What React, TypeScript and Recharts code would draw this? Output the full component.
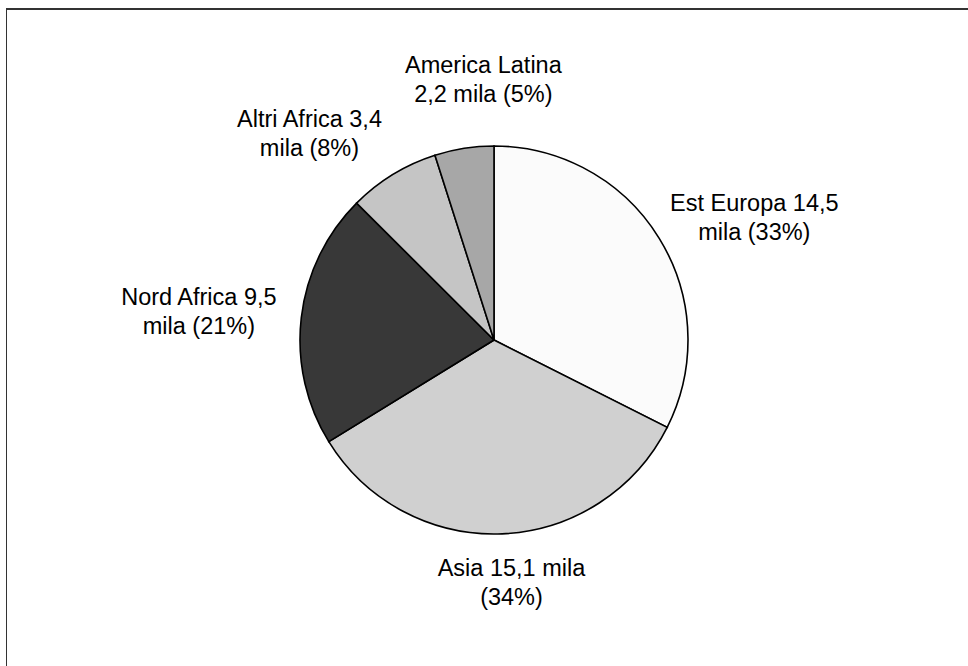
import { Cell, Pie, PieChart } from "recharts";

const regions = ["Est Europa", "Asia", "Nord Africa", "Altri Africa", "America Latina"];
const thousands = [14.5, 15.1, 9.5, 3.4, 2.2];
const shares = [33, 34, 21, 8, 5];
const labelLines: [string, string][] = [
  ["Est Europa 14,5", "mila (33%)"],
  ["Asia 15,1 mila", "(34%)"],
  ["Nord Africa 9,5", "mila (21%)"],
  ["Altri Africa 3,4", "mila (8%)"],
  ["America Latina", "2,2 mila (5%)"],
];
const fills = ["#fbfbfb", "#d0d0d0", "#383838", "#c5c5c5", "#a7a7a7"];

const data = regions.map((name, i) => ({
  name,
  value: thousands[i],
  share: shares[i],
}));

const FONT = "'Liberation Sans', Arial, sans-serif";
const FONT_SIZE = 23.5;
const LINE_H = 29;
const GAP = 20;
const SHIFT_X = 5;

// Excel shuffles labels around to avoid collisions; small manual tweaks
const nudge: Record<string, [number, number]> = {
  "Est Europa": [-2, 5],
  "Altri Africa": [-29, 1],
  "America Latina": [30, -20],
};

function approxWidth(s: string) {
  return s.length * FONT_SIZE * 0.5;
}

function renderLabel(props: any) {
  const { cx, cy, midAngle, outerRadius, index, name } = props;
  const rad = (-midAngle * Math.PI) / 180;
  const cos = Math.cos(rad);
  const sin = Math.sin(rad);
  const ax = cx + cos * (outerRadius + GAP);
  const ay = cy + sin * (outerRadius + GAP);
  const lines = labelLines[index];
  const w = Math.max(...lines.map(approxWidth));
  const h = LINE_H;
  const [nx, ny] = nudge[name] ?? [0, 0];
  const x = ax + (cos * w) / 2 + nx + SHIFT_X;
  const y = ay + sin * h + ny;
  return (
    <text
      x={x}
      y={y - LINE_H / 2}
      textAnchor="middle"
      dominantBaseline="central"
      fontFamily={FONT}
      fontSize={FONT_SIZE}
      fill="#000"
    >
      {lines.map((line, i) => (
        <tspan key={i} x={x} dy={i === 0 ? 0 : LINE_H}>
          {line}
        </tspan>
      ))}
    </text>
  );
}

export default function App() {
  return (
    <div
      style={{
        position: "absolute",
        left: 0,
        top: 0,
        width: 968,
        height: 666,
        overflow: "hidden",
        background: "#fff",
      }}
    >
      <div
        style={{
          position: "absolute",
          left: 6,
          top: 8,
          width: 1000,
          height: 700,
          borderTop: "2px solid #333",
          borderLeft: "1.5px solid #333",
        }}
      />
      <div style={{ position: "absolute", left: 0, top: 0 }}>
        <PieChart
          width={968}
          height={666}
          margin={{ top: 0, right: 0, bottom: 0, left: 0 }}
        >
          <Pie
            data={data}
            dataKey="value"
            nameKey="name"
            cx={494}
            cy={340}
            outerRadius={194}
            startAngle={90}
            endAngle={-270}
            stroke="#000"
            strokeWidth={1.6}
            labelLine={false}
            label={renderLabel}
            isAnimationActive={false}
          >
            {data.map((d, i) => (
              <Cell key={d.name} fill={fills[i]} />
            ))}
          </Pie>
        </PieChart>
      </div>
    </div>
  );
}
